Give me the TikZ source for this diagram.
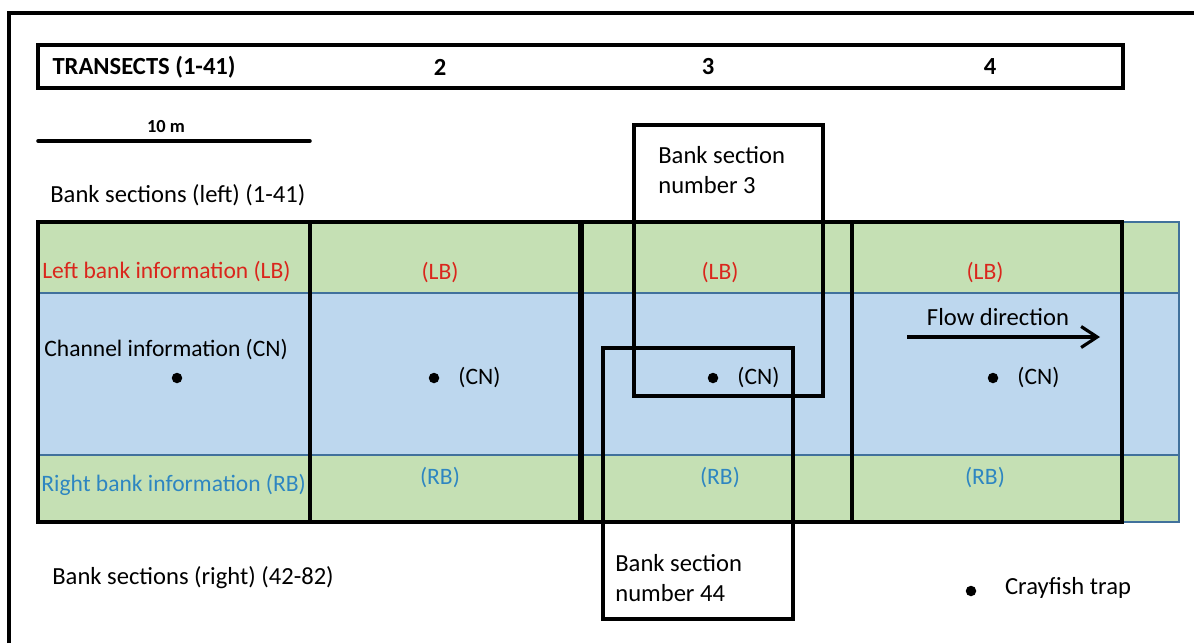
\documentclass[tikz,border=0pt]{standalone}
\usepackage{fontspec}
\setmainfont{Carlito}
\usetikzlibrary{arrows.meta}
\definecolor{bankgreen}{RGB}{197,224,180}
\definecolor{water}{RGB}{189,215,238}
\definecolor{bandedge}{RGB}{65,113,156}
\definecolor{lbred}{RGB}{218,38,28}
\definecolor{rbblue}{RGB}{46,134,193}
\tikzset{
    cell/.style={font=\fontsize{13.4}{16}\selectfont},
    lb/.style={cell, text=lbred},
    rb/.style={cell, text=rbblue},
    trap/.style={circle, fill=black, inner sep=0pt, minimum size=2.1mm},
    band/.style={draw=bandedge, line width=.7pt},
    transect/.style={line width=2.6pt},
    section/.style={line width=2.1pt}
}
\begin{document}
\fontsize{14}{17}\selectfont
\begin{tikzpicture}[x=.02cm, y=-.02cm, >={Straight Barb[length=3.2mm, width=4.2mm, line width=1.8pt]}]
    \useasboundingbox (0,0) rectangle (1194,643);
    \draw[line width=1.9pt](9,643)--(9,13)--(1194,13);
    \draw[transect](38,45) rectangle (1123,88);
    \node[anchor=west, font=\bfseries] (title) at (44,67) {TRANSECTS (1-41)};
\foreach \n/\x in {2/440,3/708,4/990}
{
    \node[font=\bfseries] (num\n) at (\x,67) {\n};
}

    \coordinate (bar0) at (38,141);
    \coordinate (bar1) at (310,141);
    \draw[line width=2pt, line cap=round](bar0)--(bar1);
    \node[font=\fontsize{10.5}{12}\selectfont\bfseries] (barlabel) at (166,127) {10 m};
    \node[anchor=west, inner xsep=0pt] (leftsec) at (50,195) {Bank sections (left) (1-41)};

    \filldraw[band, fill=bankgreen](38,222) rectangle (1179,293);
    \filldraw[band, fill=water](38,293) rectangle (1179,455);
    \filldraw[band, fill=bankgreen](38,455) rectangle (1179,522);

\foreach \a/\b in {38/310,310/580,582/852,852/1122}
{
    \draw[transect](\a,222) rectangle (\b,522);
}

    \node[lb, anchor=west, inner xsep=0pt] (lb1) at (42,272) {Left bank information (LB)};
    \node[cell, anchor=west, inner xsep=0pt] (cn1) at (44,350) {Channel information (CN)};
    \node[trap] (trap1) at (177,378) {};
    \node[rb, anchor=west, inner xsep=0pt] (rb1) at (41,485) {Right bank information (RB)};

\foreach \c/\x/\d in {2/440/434,3/720/713,4/985/993}
{
    \node[lb] (lb\c) at (\x,273) {(LB)};
    \node[rb] (rb\c) at (\x,478) {(RB)};
    \node[trap] (trap\c) at (\d,378) {};
    \node[cell, right=9pt] (cn\c) at (trap\c) {(CN)};
}

    \node (flow) at (998,317) {Flow direction};
    \coordinate (flow0) at (907,337);
    \coordinate (flow1) at (1100,337);
    \draw[->, line width=1.8pt](flow0)--(flow1);

    \draw[section](634,125) rectangle (823,396);
    \node[anchor=west, align=left, inner sep=0pt] (sec3) at (658,170) {Bank section\\number 3};
    \draw[section](603,348) rectangle (793,619);
    \node[anchor=west, align=left, inner sep=0pt] (sec44) at (615,578) {Bank section\\number 44};

    \node[anchor=west, inner xsep=0pt] (rightsec) at (52,578) {Bank sections (right) (42-82)};
    \node[trap] (legtrap) at (971,591) {};
    \node (legend) at (1068,588) {Crayfish trap};
\end{tikzpicture}
\end{document}
